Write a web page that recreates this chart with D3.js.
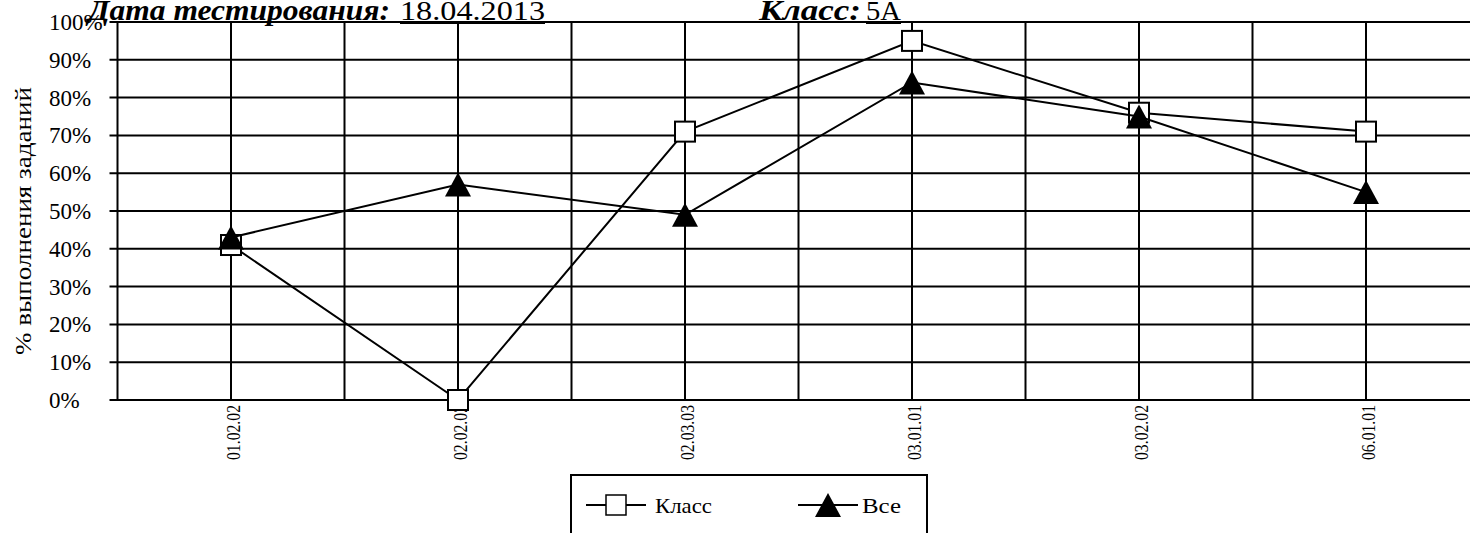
<!DOCTYPE html>
<html>
<head>
<meta charset="utf-8">
<script src="https://cdn.jsdelivr.net/npm/d3@7"></script>
<style>
  html, body { margin: 0; padding: 0; background: #fff; overflow: hidden; }
  text { font-family: 'Liberation Serif', 'Times New Roman', serif; fill: #000; }
</style>
</head>
<body>
<div id="root"></div>
<script>
const categories = ['01.02.02', '02.02.02', '02.03.03', '03.01.01', '03.02.02', '06.01.01'];
const classValues = [41, 0, 71, 95, 76, 71];
const allValues = [43, 57, 49, 84, 75, 55];
const yTicks = [0, 10, 20, 30, 40, 50, 60, 70, 80, 90, 100];
const seriesNames = ['Класс', 'Все'];

const svgWidth = 1470;
const svgHeight = 533;
const plot = { left: 117.5, top: 22, bottom: 400, bandWidth: 227 };

const xScale = d3.scaleBand()
  .domain(categories)
  .range([plot.left, plot.left + plot.bandWidth * categories.length])
  .paddingInner(0)
  .paddingOuter(0);

const yScale = d3.scaleLinear()
  .domain([0, 100])
  .range([plot.bottom, plot.top]);

const xMid = d => xScale(d) + xScale.bandwidth() / 2;

const svg = d3.select('#root').append('svg')
  .attr('width', svgWidth)
  .attr('height', svgHeight);

// horizontal gridlines + tick marks
svg.append('g')
  .selectAll('line')
  .data(yTicks)
  .enter()
  .append('line')
  .attr('x1', plot.left - 8)
  .attr('x2', svgWidth + 20)
  .attr('y1', d => yScale(d))
  .attr('y2', d => yScale(d))
  .attr('stroke', '#000')
  .attr('stroke-width', 2);

// vertical gridlines at band edges and centres
const vLines = [];
categories.forEach(c => {
  vLines.push(xScale(c));
  vLines.push(xMid(c));
});
svg.append('g')
  .selectAll('line')
  .data(vLines)
  .enter()
  .append('line')
  .attr('x1', d => d)
  .attr('x2', d => d)
  .attr('y1', yScale(100))
  .attr('y2', yScale(0))
  .attr('stroke', '#000')
  .attr('stroke-width', 2);

// y tick labels (left aligned like the source)
svg.append('g')
  .selectAll('text')
  .data(yTicks)
  .enter()
  .append('text')
  .attr('x', 49)
  .attr('y', d => yScale(d))
  .attr('dy', '0.35em')
  .attr('font-size', 23)
  .text(d => d + '%');

// x tick labels, rotated
svg.append('g')
  .selectAll('text')
  .data(categories)
  .enter()
  .append('text')
  .attr('transform', d => `translate(${xMid(d) + 9}, 405) rotate(-90)`)
  .attr('text-anchor', 'end')
  .attr('font-size', 18)
  .attr('textLength', 55)
  .attr('lengthAdjust', 'spacingAndGlyphs')
  .text(d => d);

// y axis title
svg.append('text')
  .attr('transform', 'translate(31, 221) rotate(-90)')
  .attr('text-anchor', 'middle')
  .attr('font-size', 24)
  .attr('textLength', 268)
  .attr('lengthAdjust', 'spacingAndGlyphs')
  .text('% выполнения заданий');

// series
const line = d3.line()
  .x((d, i) => xMid(categories[i]))
  .y(d => yScale(d));

const triangle = 'M0,-12L13,12L-13,12Z';

function drawSeries(values, marker) {
  const g = svg.append('g');
  g.append('path')
    .attr('d', line(values))
    .attr('fill', 'none')
    .attr('stroke', '#000')
    .attr('stroke-width', 2);
  const pts = g.selectAll('.pt')
    .data(values)
    .enter();
  if (marker === 'square') {
    pts.append('rect')
      .attr('x', (d, i) => xMid(categories[i]) - 10)
      .attr('y', d => yScale(d) - 10)
      .attr('width', 20)
      .attr('height', 20)
      .attr('fill', '#fff')
      .attr('stroke', '#000')
      .attr('stroke-width', 2);
  } else {
    pts.append('path')
      .attr('d', triangle)
      .attr('transform', (d, i) => `translate(${xMid(categories[i])}, ${yScale(d)})`)
      .attr('fill', '#000');
  }
}

drawSeries(classValues, 'square');
drawSeries(allValues, 'triangle');

// title line
const title = svg.append('g');
title.append('text')
  .attr('x', 88).attr('y', 20)
  .attr('font-size', 30)
  .attr('font-weight', 'bold')
  .attr('font-style', 'italic')
  .attr('textLength', 302)
  .attr('lengthAdjust', 'spacingAndGlyphs')
  .text('Дата тестирования:');
title.append('text')
  .attr('x', 400).attr('y', 20)
  .attr('font-size', 28)
  .attr('textLength', 145)
  .attr('lengthAdjust', 'spacingAndGlyphs')
  .text('18.04.2013');
title.append('line')
  .attr('x1', 400).attr('x2', 545)
  .attr('y1', 23).attr('y2', 23)
  .attr('stroke', '#000').attr('stroke-width', 2);
title.append('text')
  .attr('x', 759).attr('y', 20)
  .attr('font-size', 30)
  .attr('font-weight', 'bold')
  .attr('font-style', 'italic')
  .attr('textLength', 102)
  .attr('lengthAdjust', 'spacingAndGlyphs')
  .text('Класс:');
title.append('text')
  .attr('x', 866).attr('y', 20)
  .attr('font-size', 28)
  .attr('textLength', 35)
  .attr('lengthAdjust', 'spacingAndGlyphs')
  .text('5А');
title.append('line')
  .attr('x1', 866).attr('x2', 901)
  .attr('y1', 23).attr('y2', 23)
  .attr('stroke', '#000').attr('stroke-width', 2);

// legend
const legend = svg.append('g')
  .attr('transform', 'translate(571, 475)');

legend.append('rect')
  .attr('x', 0).attr('y', 0)
  .attr('width', 356).attr('height', 80)
  .attr('fill', '#fff')
  .attr('stroke', '#000')
  .attr('stroke-width', 2);

const legendItems = [
  { name: seriesNames[0], x0: 15, marker: 'square', textX: 84, textLen: 57 },
  { name: seriesNames[1], x0: 227, marker: 'triangle', textX: 291, textLen: 39 }
];

legendItems.forEach(item => {
  const cy = 30;
  legend.append('line')
    .attr('x1', item.x0).attr('x2', item.x0 + 60)
    .attr('y1', cy).attr('y2', cy)
    .attr('stroke', '#000').attr('stroke-width', 2);
  if (item.marker === 'square') {
    legend.append('rect')
      .attr('x', item.x0 + 30 - 10).attr('y', cy - 10)
      .attr('width', 20).attr('height', 20)
      .attr('fill', '#fff')
      .attr('stroke', '#000').attr('stroke-width', 1.5);
  } else {
    legend.append('path')
      .attr('d', triangle)
      .attr('transform', `translate(${item.x0 + 30}, ${cy})`)
      .attr('fill', '#000');
  }
  legend.append('text')
    .attr('x', item.textX).attr('y', cy)
    .attr('dy', '0.35em')
    .attr('font-size', 22)
    .attr('textLength', item.textLen)
    .attr('lengthAdjust', 'spacingAndGlyphs')
    .text(item.name);
});
</script>
</body>
</html>
